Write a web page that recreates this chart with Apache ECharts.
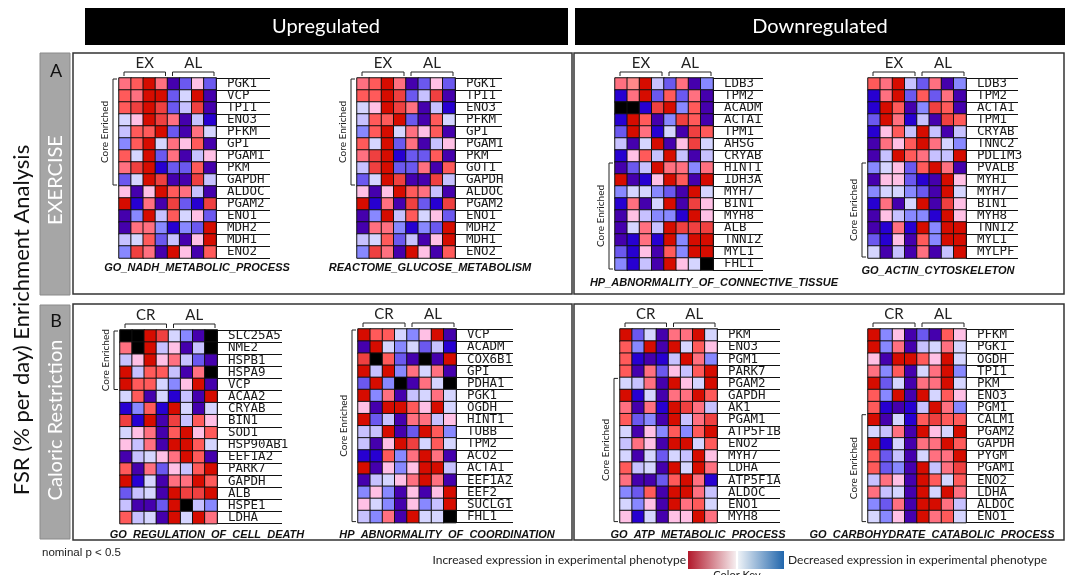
<!DOCTYPE html>
<html>
<head>
<meta charset="utf-8">
<title>FSR enrichment heatmaps</title>
<script src="https://cdn.jsdelivr.net/npm/echarts@6/dist/echarts.min.js"></script>
<style>
  html, body { margin: 0; padding: 0; background: #fff; }
  #chart { width: 1068px; height: 575px; }
</style>
</head>
<body>
<div id="chart"></div>
<script>
// sample columns: 4 experimental + 4 control (AL)
const sampleCols = ['1', '2', '3', '4', '5', '6', '7', '8'];
// colour codes: -6 (deep blue) .. 6 (deep red), 9 = missing (black)

const nadhGenes = ['PGK1', 'VCP', 'TPI1', 'ENO3', 'PFKM', 'GPI', 'PGAM1', 'PKM', 'GAPDH', 'ALDOC', 'PGAM2', 'ENO1', 'MDH2', 'MDH1', 'ENO2'];
const nadhValues = [
  [3, 4, 6, 3, -6, -4, 1, -4],
  [4, 3, 6, 6, -4, -1, 6, -6],
  [4, 5, 6, 5, -4, -2, 5, -6],
  [-1, 1, 6, 5, 3, -6, -2, -5],
  [-2, 4, 4, 6, -4, -6, 3, -1],
  [-3, 4, 6, -1, 3, 1, 4, -6],
  [4, -1, 6, -4, 3, -6, -2, 1],
  [3, 5, 6, -5, -4, -4, 4, -6],
  [-4, -1, 6, 5, -6, -6, 5, -2],
  [1, -6, 1, 6, 4, 3, -2, -6],
  [6, -5, 3, -6, 5, -4, -5, 5],
  [-6, -3, 6, -2, 4, -1, 1, -4],
  [-6, 3, 3, -3, -5, -3, -4, 6],
  [-2, -1, 4, -4, -2, -6, 1, 6],
  [-3, 5, 3, -6, 6, 1, -6, 4]
];

const glucoseGenes = ['PGK1', 'TPI1', 'ENO3', 'PFKM', 'GPI', 'PGAM1', 'PKM', 'GOT1', 'GAPDH', 'ALDOC', 'PGAM2', 'ENO1', 'MDH2', 'MDH1', 'ENO2'];
const glucoseValues = [
  [3, 4, 6, 3, -6, -4, 1, -4],
  [4, 4, 6, 5, -4, -2, 5, -6],
  [-1, 1, 6, 5, 3, -6, -2, -5],
  [-2, 4, 4, 6, -4, -6, 4, -1],
  [-3, 4, 6, -1, 3, 1, 4, -6],
  [4, -1, 6, -4, 3, -6, -2, 1],
  [3, 5, 6, -5, -4, -4, 4, -6],
  [-2, 5, 6, -4, -4, 3, -6, 4],
  [-4, -1, 6, 5, -6, -6, 5, -2],
  [1, -6, 1, 6, 4, 3, -2, -6],
  [6, -5, 3, -6, 5, -4, -5, 5],
  [-6, -3, 6, -2, 4, -1, 1, -4],
  [-6, 3, 3, -3, -5, -3, -4, 6],
  [-2, -1, 4, -4, -2, -6, 1, 6],
  [-3, 5, 3, -6, 6, 1, -6, 4]
];

const connGenes = ['LDB3', 'TPM2', 'ACADM', 'ACTA1', 'TPM1', 'AHSG', 'CRYAB', 'HINT1', 'IDH3A', 'MYH7', 'BIN1', 'MYH8', 'ALB', 'TNNI2', 'MYL1', 'FHL1'];
const connValues = [
  [3, 2, 6, -2, -4, 3, -6, -3],
  [-5, 3, 6, -4, 4, -4, 3, -6],
  [9, 9, -5, 5, 6, -3, 4, -6],
  [-5, 6, 4, -6, -3, 5, 4, -6],
  [-4, 6, 3, -5, -1, -6, 5, 4],
  [-2, -6, -1, 6, -6, 1, 5, -1],
  [-5, 1, 4, -2, 6, -2, -6, -2],
  [-6, -4, -2, 6, 3, 3, -3, 3],
  [6, -6, -5, 1, 6, 4, -6, 6],
  [-3, -1, -1, -3, -4, -6, 6, -1],
  [-5, 3, -6, -1, 6, -6, 5, 1],
  [-6, 1, -2, -3, -3, -5, 6, 1],
  [-6, -1, 3, -2, 6, 5, 5, 5],
  [-6, -5, 3, -5, 6, -3, 6, 6],
  [-4, -5, 1, -6, 4, -3, 6, 6],
  [-3, -5, -2, -6, 6, 1, -1, 9]
];

const actinGenes = ['LDB3', 'TPM2', 'ACTA1', 'TPM1', 'CRYAB', 'TNNC2', 'PDLIM3', 'PVALB', 'MYH1', 'MYH7', 'BIN1', 'MYH8', 'TNNI2', 'MYL1', 'MYLPF'];
const actinValues = [
  [4, 3, 6, -2, -4, 3, -6, -3],
  [-5, 3, 6, -4, 4, -4, 3, -6],
  [-5, 6, 4, -6, -3, 5, 4, -6],
  [-4, 6, 3, -5, -2, -6, 5, 4],
  [-5, 1, 4, -2, 6, -2, -6, -2],
  [-6, 3, 1, 4, 6, 3, -1, -3],
  [-6, -2, 6, 4, 3, -2, -2, 6],
  [-3, -1, 1, -4, 4, 6, 3, -6],
  [-6, 1, 1, -4, -5, -6, 6, 1],
  [-3, -1, -1, -3, -4, -6, 6, -1],
  [-5, 3, -6, -1, 6, -6, 5, 1],
  [-6, 1, -2, -3, -3, -5, 6, 1],
  [-6, -5, 3, -5, 6, -3, 6, 6],
  [-4, -5, 1, -6, 4, -3, 6, 6],
  [-1, -6, -2, -6, 3, -6, -2, 6]
];

const deathGenes = ['SLC25A5', 'NME2', 'HSPB1', 'HSPA9', 'VCP', 'ACAA2', 'CRYAB', 'BIN1', 'SOD1', 'HSP90AB1', 'EEF1A2', 'PARK7', 'GAPDH', 'ALB', 'HSPE1', 'LDHA'];
const deathValues = [
  [9, 9, 6, 5, -1, -3, -6, 9],
  [3, 9, 6, -2, 1, -6, -2, 9],
  [-2, 1, 6, 1, 3, -2, -4, -6],
  [6, -2, 4, 4, -2, -6, 3, 9],
  [6, 4, 4, -1, -3, 1, 6, -6],
  [-1, 4, -6, -1, -5, -2, -6, 6],
  [-5, -3, 4, -5, 6, -1, -6, -1],
  [5, -5, 6, -6, 5, -2, 4, 1],
  [-1, 1, 3, -6, 4, 6, 1, 4],
  [1, -2, 3, -6, 6, 6, 4, -1],
  [-6, -2, -1, 1, 3, 6, 4, -6],
  [4, -6, 3, -4, 1, -2, 4, 6],
  [6, -5, -1, -6, 3, 3, 6, 4],
  [-4, -2, -1, -6, 6, 5, 5, 6],
  [-2, -6, -6, -4, 6, 9, -2, -3],
  [4, -2, -1, -6, 6, -1, 6, 3]
];

const coordGenes = ['VCP', 'ACADM', 'COX6B1', 'GPI', 'PDHA1', 'PGK1', 'OGDH', 'HINT1', 'TUBB', 'TPM2', 'ACO2', 'ACTA1', 'EEF1A2', 'EEF2', 'SUCLG1', 'FHL1'];
const coordValues = [
  [6, 4, 4, -1, -3, 1, 6, -6],
  [-6, 6, -1, -3, -1, -4, -2, -5],
  [5, 9, 4, -4, -6, 9, -6, 6],
  [6, -2, 6, -3, 3, -1, 3, -6],
  [-4, 6, -3, 9, -6, 3, -1, 9],
  [6, -3, 3, -6, -2, -1, 3, -1],
  [1, -6, 6, 6, 4, 1, 6, -1],
  [6, -4, -2, -6, 3, 3, -2, 1],
  [-2, -2, 6, -6, -4, 6, 4, -3],
  [-2, -6, 1, 6, 5, -1, 4, -1],
  [-5, -5, 4, -3, 3, 6, 3, -6],
  [6, -6, 1, -3, 1, 6, 6, -2],
  [-6, -2, -1, 1, 3, 6, 3, -6],
  [-3, 1, -3, -6, 1, -6, 1, 6],
  [1, -1, -3, -6, 1, -3, -2, 6],
  [-2, -3, 3, -6, 6, -1, -1, 9]
];

const atpGenes = ['PKM', 'ENO3', 'PGM1', 'PARK7', 'PGAM2', 'GAPDH', 'AK1', 'PGAM1', 'ATP5F1B', 'ENO2', 'MYH7', 'LDHA', 'ATP5F1A', 'ALDOC', 'ENO1', 'MYH8'];
const atpValues = [
  [6, -4, -1, -6, 3, 3, 6, -1],
  [4, -3, 6, -6, 6, -1, 4, 1],
  [4, -5, -6, -5, -2, 6, 3, -3],
  [4, -6, 3, -4, 1, -2, 4, 6],
  [-1, -2, 3, -6, 6, 1, -1, 6],
  [6, -5, -1, -6, 3, 3, 6, 4],
  [3, -6, 3, -5, 6, 5, 3, -2],
  [4, -4, -3, -6, 6, -2, 3, 5],
  [-1, -6, 1, -3, 4, -3, 4, 6],
  [-2, 3, 1, -6, 6, 6, -1, 4],
  [-1, -6, -1, -4, -1, -2, 6, 1],
  [4, -2, -1, -6, 6, -1, 6, 3],
  [3, -6, -6, -4, 4, 6, 3, -5],
  [-3, -4, 4, -6, 6, 6, 3, -2],
  [-1, -3, 1, -6, 6, 3, 4, -1],
  [1, -5, -1, -6, 1, 1, 6, 3]
];

const carbGenes = ['PFKM', 'PGK1', 'OGDH', 'TPI1', 'PKM', 'ENO3', 'PGM1', 'CALM1', 'PGAM2', 'GAPDH', 'PYGM', 'PGAM1', 'ENO2', 'LDHA', 'ALDOC', 'ENO1'];
const carbValues = [
  [6, -3, 1, -6, -4, -6, 4, 1],
  [6, -3, 3, -6, -2, -1, 3, -1],
  [1, -6, 6, 6, 4, 1, 6, -1],
  [3, -3, 4, -6, -1, 3, 6, -3],
  [6, -4, -1, -6, 3, 3, 6, -1],
  [4, -3, 6, -6, 6, -1, 4, 1],
  [4, -5, -6, -5, -2, 6, 3, -3],
  [6, -6, -1, -5, 4, 5, 4, 4],
  [-1, -2, 3, -6, 6, 1, -1, 6],
  [6, -5, -1, -6, 3, 3, 6, 4],
  [4, -4, -2, -6, -1, 3, 3, 6],
  [4, -4, -3, -6, 6, -2, 3, 5],
  [-2, 3, 1, -6, 6, 4, -1, 4],
  [3, -2, -1, -6, 6, -1, 6, 3],
  [-3, -4, 3, -6, 6, 6, 3, -2],
  [-1, -3, 1, -6, 6, 3, 4, -1]
];

// GSEA style palette
const levelColors = {
  '-6': '#4500AD', '-5': '#2700D1', '-4': '#6B58EF', '-3': '#8888FF', '-2': '#C7C1FF', '-1': '#D5D5FF',
  '1': '#FFC0E5', '2': '#FF8989', '3': '#FF7080', '4': '#FF5A5A', '5': '#EF4040', '6': '#D60C00', '9': '#000000'
};

// layout for each heatmap (pixel positions)
const panels = [
  { genes: nadhGenes, values: nadhValues, title: 'GO_NADH_METABOLIC_PROCESS', groups: ['EX', 'AL'], core: [0, 9],
    left: 119, top: 78, width: 97, rowH: 12, tick: 54, titleX: 197, titleY: 268 },
  { genes: glucoseGenes, values: glucoseValues, title: 'REACTOME_GLUCOSE_METABOLISM', groups: ['EX', 'AL'], core: [0, 9],
    left: 357, top: 78, width: 98, rowH: 12, tick: 47, titleX: 430, titleY: 268 },
  { genes: connGenes, values: connValues, title: 'HP_ABNORMALITY_OF_CONNECTIVE_TISSUE', groups: ['EX', 'AL'], core: [7, 16],
    left: 615, top: 78, width: 98, rowH: 12, tick: 50, titleX: 714, titleY: 283 },
  { genes: actinGenes, values: actinValues, title: 'GO_ACTIN_CYTOSKELETON', groups: ['EX', 'AL'], core: [7, 15],
    left: 868, top: 78, width: 98, rowH: 12, tick: 52, titleX: 938, titleY: 271 },
  { genes: deathGenes, values: deathValues, title: 'GO_REGULATION_OF_CELL_DEATH', groups: ['CR', 'AL'], core: [0, 5],
    left: 120, top: 330, width: 97, rowH: 12.1, tick: 65, titleX: 207, titleY: 535 },
  { genes: coordGenes, values: coordValues, title: 'HP_ABNORMALITY_OF_COORDINATION', groups: ['CR', 'AL'], core: [0, 16],
    left: 358, top: 329, width: 98, rowH: 12.1, tick: 57, titleX: 447, titleY: 535 },
  { genes: atpGenes, values: atpValues, title: 'GO_ATP_METABOLIC_PROCESS', groups: ['CR', 'AL'], core: [4, 16],
    left: 620, top: 329, width: 97, rowH: 12.1, tick: 63, titleX: 698, titleY: 535 },
  { genes: carbGenes, values: carbValues, title: 'GO_CARBOHYDRATE_CATABOLIC_PROCESS', groups: ['CR', 'AL'], core: [7, 16],
    left: 868, top: 329, width: 98, rowH: 12.1, tick: 48, titleX: 932, titleY: 535 }
];

(function () {
  'use strict';

  const chart = echarts.init(document.getElementById('chart'), null, { renderer: 'canvas' });
  const sans = 'Lato, "Open Sans", sans-serif';
  const ink = '#222';

  const grids = [], xAxes = [], yAxes = [], series = [];
  const graphic = [];

  function text(x, y, str, style, extra) {
    graphic.push(Object.assign({
      type: 'text', x: x, y: y, silent: true,
      style: Object.assign({ text: str, fill: ink, align: 'center', verticalAlign: 'middle', fontFamily: sans }, style)
    }, extra || {}));
  }
  function line(points, stroke, width) {
    graphic.push({ type: 'polyline', silent: true, shape: { points: points },
      style: { stroke: stroke || ink, lineWidth: width || 1, fill: null } });
  }
  function rect(x, y, w, h, style) {
    graphic.push({ type: 'rect', silent: true, shape: { x: x, y: y, width: w, height: h }, style: style });
  }

  panels.forEach(function (p, i) {
    const h = p.genes.length * p.rowH;
    grids.push({ left: p.left, top: p.top, width: p.width, height: h });
    xAxes.push({ type: 'category', gridIndex: i, data: sampleCols, show: false });
    yAxes.push({
      type: 'category', gridIndex: i, data: p.genes, inverse: true, position: 'right',
      axisLine: { show: true, lineStyle: { color: '#111', width: 1 } },
      axisTick: { show: true, interval: 0, length: p.tick, lineStyle: { color: '#111', width: 1 } },
      axisLabel: { interval: 0, margin: 11, fontFamily: '"DejaVu Sans Mono", monospace', fontSize: 12.5, color: '#1a1a1a' },
      splitLine: { show: false }
    });
    const data = [];
    p.values.forEach(function (row, r) {
      row.forEach(function (v, c) { data.push([c, r, v]); });
    });
    series.push({
      type: 'heatmap', xAxisIndex: i, yAxisIndex: i, data: data,
      itemStyle: { borderColor: '#111', borderWidth: 1 },
      emphasis: { disabled: true }
    });

    // group headers (EX/CR and AL) with brackets
    const half = p.width / 2;
    [0, 1].forEach(function (g) {
      const x0 = p.left + g * half + 5, x1 = p.left + (g + 1) * half - 2;
      text((x0 + x1) / 2, p.top - 15, p.groups[g], { fontSize: 15 });
      line([[x0, p.top - 2], [x0, p.top - 6], [x1, p.top - 6], [x1, p.top - 2]]);
    });

    // core enriched bracket
    const cx = p.left - 6;
    const y0 = p.top + p.core[0] * p.rowH + 1, y1 = p.top + p.core[1] * p.rowH - 1;
    line([[cx + 4, y0], [cx, y0], [cx, y1], [cx + 4, y1]]);
    text(cx - 8, (y0 + y1) / 2, 'Core Enriched', { fontSize: 10 }, { rotation: Math.PI / 2 });

    // gene set title
    text(p.titleX, p.titleY, p.title, {
      fontSize: 11, fontWeight: 'bold', fontStyle: 'italic', fontFamily: '"Liberation Sans", Arial, sans-serif', fill: '#111'
    });
  });

  // header bars
  rect(85, 8, 483, 37, { fill: '#000' });
  rect(575, 8, 490, 37, { fill: '#000' });
  text(326, 27, 'Upregulated', { fontSize: 20, fill: '#fff' });
  text(820, 27, 'Downregulated', { fontSize: 20, fill: '#fff' });

  // panel boxes
  [[73, 53, 499, 241], [574, 53, 490, 241], [73, 304, 499, 236], [574, 304, 490, 236]].forEach(function (b) {
    rect(b[0], b[1], b[2], b[3], { fill: null, stroke: '#333', lineWidth: 1.5 });
  });

  // side strips
  rect(40, 53, 30, 242, { fill: '#a6a6a6', stroke: '#8a8a8a', lineWidth: 1 });
  rect(40, 305, 30, 234, { fill: '#a6a6a6', stroke: '#8a8a8a', lineWidth: 1 });
  text(56, 71, 'A', { fontSize: 18, fill: '#111' });
  text(56, 321, 'B', { fontSize: 18, fill: '#111' });
  text(56, 180, 'EXERCISE', { fontSize: 20, fill: '#fff' }, { rotation: Math.PI / 2 });
  text(56, 420, 'Caloric Restriction', { fontSize: 20, fill: '#fff' }, { rotation: Math.PI / 2 });
  text(22, 320, 'FSR (% per day) Enrichment Analysis', { fontSize: 22, fill: '#111' }, { rotation: Math.PI / 2 });

  // footnote and colour key
  text(42, 553, 'nominal p < 0.5', { fontSize: 11.5, align: 'left', fontFamily: '"Liberation Sans", Arial, sans-serif' });
  text(686, 560, 'Increased expression in experimental phenotype', { fontSize: 12, align: 'right' });
  text(788, 560, 'Decreased expression in experimental phenotype', { fontSize: 12, align: 'left' });
  rect(688, 551, 48, 18, { fill: new echarts.graphic.LinearGradient(0, 0, 1, 0, [
    { offset: 0, color: '#b2182b' }, { offset: 1, color: '#f6eef0' }]) });
  rect(738, 551, 46, 18, { fill: new echarts.graphic.LinearGradient(0, 0, 1, 0, [
    { offset: 0, color: '#eef2f7' }, { offset: 1, color: '#2166ac' }]) });
  text(737, 570, 'Color Key', { fontSize: 11, verticalAlign: 'top' });

  const pieces = Object.keys(levelColors).map(function (k) {
    return { value: Number(k), color: levelColors[k] };
  });

  chart.setOption({
    animation: false,
    backgroundColor: '#fff',
    grid: grids,
    xAxis: xAxes,
    yAxis: yAxes,
    visualMap: {
      type: 'piecewise', show: false, dimension: 2,
      seriesIndex: series.map(function (s, i) { return i; }),
      pieces: pieces
    },
    series: series,
    graphic: graphic
  });
})();
</script>
</body>
</html>
